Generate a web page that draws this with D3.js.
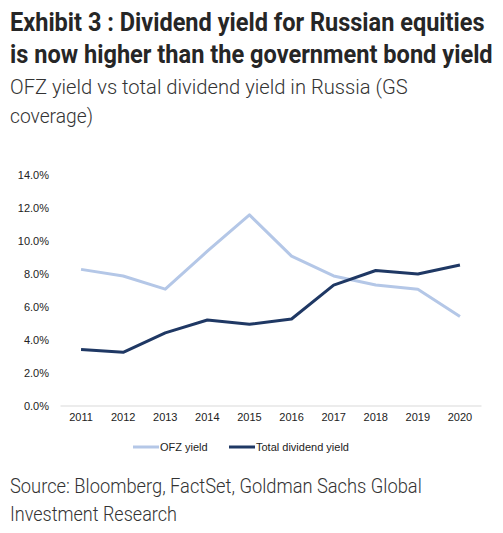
<!DOCTYPE html>
<html><head><meta charset="utf-8">
<script src="https://cdn.jsdelivr.net/npm/d3@7"></script>
<style>body{margin:0;background:#fff}</style>
</head><body>
<script>
const years = ["2011","2012","2013","2014","2015","2016","2017","2018","2019","2020"];
const ofzYield = [8.25, 7.85, 7.05, 9.35, 11.55, 9.05, 7.85, 7.3, 7.05, 5.4];
const dividendYield = [3.4, 3.22, 4.4, 5.18, 4.92, 5.24, 7.3, 8.18, 7.97, 8.52];
const yTicks = [0, 2, 4, 6, 8, 10, 12, 14];
const seriesNames = ["OFZ yield", "Total dividend yield"];
const seriesColors = ["#b4c7e7", "#1f3864"];

const W = 503, H = 533;
const svg = d3.select("body").append("svg").attr("width", W).attr("height", H);

function txt(s, x, y, size, weight, len, color) {
  const t = svg.append("text").attr("x", 0).attr("y", 0)
    .attr("font-family", "Roboto").attr("font-size", size).attr("font-weight", weight)
    .attr("fill", color).text(s);
  const nat = t.node().getComputedTextLength();
  t.attr("transform", `translate(${x},${y}) scale(${len / nat},1)`);
  return t;
}
txt("Exhibit 3 : Dividend yield for Russian equities", 10, 30.5, 25, 700, 475, "#262626");
txt("is now higher than the government bond yield", 10, 62.5, 25, 700, 483, "#262626");
txt("OFZ yield vs total dividend yield in Russia (GS", 10, 94, 21, 300, 398, "#333");
txt("coverage)", 10, 123, 21, 300, 83, "#333");
txt("Source: Bloomberg, FactSet, Goldman Sachs Global", 10, 493, 21, 300, 412, "#333");
txt("Investment Research", 10, 521, 21, 300, 167, "#333");

const x = d3.scaleBand().domain(years).range([60, 481]);
const y = d3.scaleLinear().domain([0, 14]).range([405.5, 174.5]);

const yAxis = svg.append("g").attr("transform", "translate(49,0)")
  .call(d3.axisLeft(y).tickValues(yTicks).tickSize(0).tickPadding(0).tickFormat(d => d.toFixed(1) + "%"));
yAxis.select(".domain").remove();
yAxis.selectAll("text").attr("font-family", "Liberation Sans, Arial").attr("font-size", 11).attr("fill", "#222");

const xAxis = svg.append("g").attr("transform", "translate(0,405.5)")
  .call(d3.axisBottom(x).tickSize(0).tickPadding(8));
xAxis.select(".domain").attr("stroke", "#d9d9d9").attr("stroke-width", 1);
xAxis.selectAll("text").attr("font-family", "Liberation Sans, Arial").attr("font-size", 11).attr("fill", "#222");

const line = d3.line().x((d, i) => x(years[i]) + x.bandwidth() / 2).y(d => y(d));
[ofzYield, dividendYield].forEach((s, k) => {
  svg.append("path").datum(s).attr("d", line).attr("fill", "none")
    .attr("stroke", seriesColors[k]).attr("stroke-width", 3).attr("stroke-linejoin", "round");
});

const legX = [133, 229];
seriesNames.forEach((n, k) => {
  svg.append("line").attr("x1", legX[k]).attr("x2", legX[k] + 26).attr("y1", 447).attr("y2", 447)
    .attr("stroke", seriesColors[k]).attr("stroke-width", 3);
  svg.append("text").attr("x", legX[k] + 27).attr("y", 451).attr("font-family", "Liberation Sans, Arial")
    .attr("font-size", 11).attr("fill", "#222").text(n);
});
</script>
</body></html>
